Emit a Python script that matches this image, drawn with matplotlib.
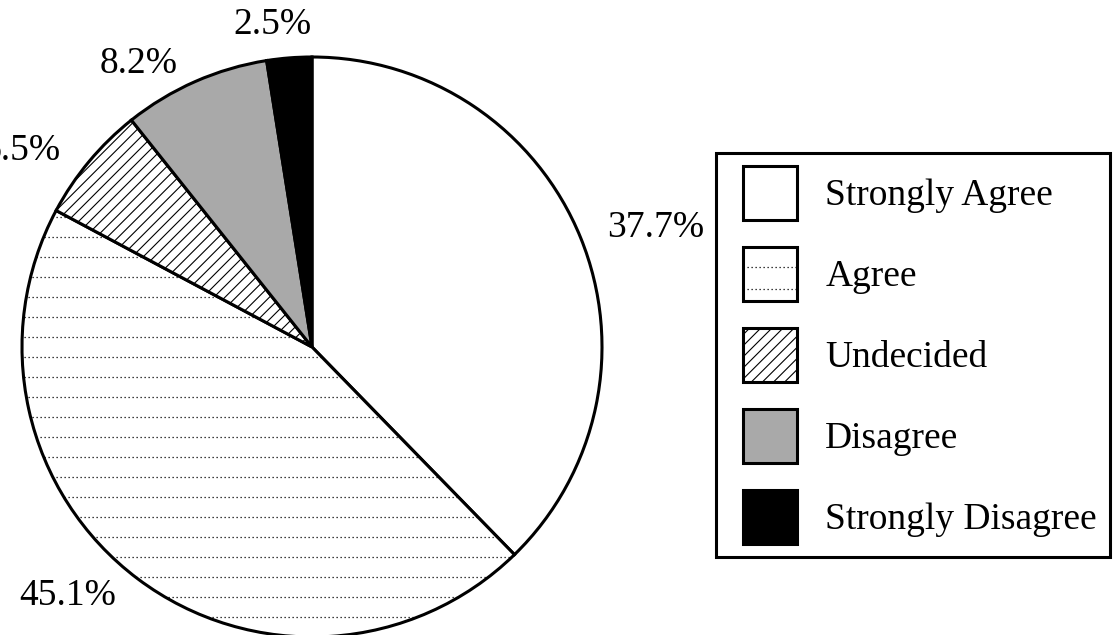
import matplotlib
matplotlib.use("Agg")
import matplotlib.pyplot as plt
import numpy as np
from matplotlib.patches import Rectangle
from matplotlib.lines import Line2D
from matplotlib.legend_handler import HandlerBase

plt.rcParams['font.family'] = ['Liberation Serif', 'DejaVu Serif']
plt.rcParams['hatch.linewidth'] = 0.8

# données
categories = ["Strongly Agree", "Agree", "Undecided", "Disagree", "Strongly Disagree"]
valeurs = [37.7, 45.1, 6.5, 8.2, 2.5]
couleurs = ["white", "white", "white", "#a9a9a9", "black"]
hachures = [None, None, "///", None, None]
pointille = [False, True, False, False, False]

# position des étiquettes (ligne de base, en rayons) et alignement
pos_etiq = [(1.017, 0.379, "left"), (-0.676, -0.890, "right"), (-0.866, 0.645, "right"),
            (-0.464, 0.945, "right"), (-0.138, 1.079, "center")]

fig = plt.figure(figsize=(11.14, 6.35), dpi=100)
ax = fig.add_axes([22 / 1114, -2 / 635, 580 / 1114, 580 / 635])

wedges, _ = ax.pie(valeurs, colors=couleurs, startangle=90, counterclock=False,
                   radius=1, wedgeprops=dict(edgecolor="black", linewidth=2.2))
for w, h in zip(wedges, hachures):
    if h:
        w.set_hatch(h)
    w.set_clip_on(False)

for v, (x, y, ha) in zip(valeurs, pos_etiq):
    ax.text(x, y, "%.1f%%" % v, fontsize=27, ha=ha, va="baseline")

# lignes pointillées de la part "Agree"
for i, w in enumerate(wedges):
    if pointille[i]:
        for y in np.arange(-1.0, 1.0, 0.069):
            ln, = ax.plot([-1.05, 1.05], [y, y], color="black", lw=0.9, ls=(0, (1, 2.2)))
            ln.set_clip_path(w)

ax.set_xlim(-1, 1)
ax.set_ylim(-1, 1)
ax.set_aspect("equal")
ax.axis("off")


class HandlerCarre(HandlerBase):
    def __init__(self, decal, dots=False):
        super().__init__()
        self.decal = decal
        self.dots = dots

    def create_artists(self, legend, orig_handle, xdescent, ydescent, width, height, fontsize, trans):
        x0 = -xdescent + self.decal
        w = width - self.decal
        rect = Rectangle((x0, -ydescent), w, height, facecolor=orig_handle.get_facecolor(),
                         edgecolor="black", linewidth=2.2, hatch=orig_handle.get_hatch(),
                         transform=trans)
        arts = [rect]
        if self.dots:
            for f in (0.23, 0.625):
                arts.append(Line2D([x0, x0 + w], [-ydescent + height * f] * 2,
                                   color="black", lw=0.9, ls=(0, (1, 2.2)), transform=trans))
        return arts


fs = 27
decal = 10.0  # points
hh = 1.838
hl = 1.44 + decal / fs
handlers = {w: HandlerCarre(decal, pointille[i]) for i, w in enumerate(wedges)}

leg = fig.legend(wedges, categories, loc="upper left",
                 bbox_to_anchor=(716 / 1114, 1 - 153 / 635),
                 fontsize=fs, frameon=True, fancybox=False, framealpha=1,
                 handlelength=hl, handleheight=hh, handletextpad=0.75,
                 labelspacing=0.72, borderpad=0.35, borderaxespad=0,
                 handler_map=handlers)
leg.get_frame().set_edgecolor("black")
leg.get_frame().set_linewidth(2.2)

fig.savefig("out.png", dpi=100)
